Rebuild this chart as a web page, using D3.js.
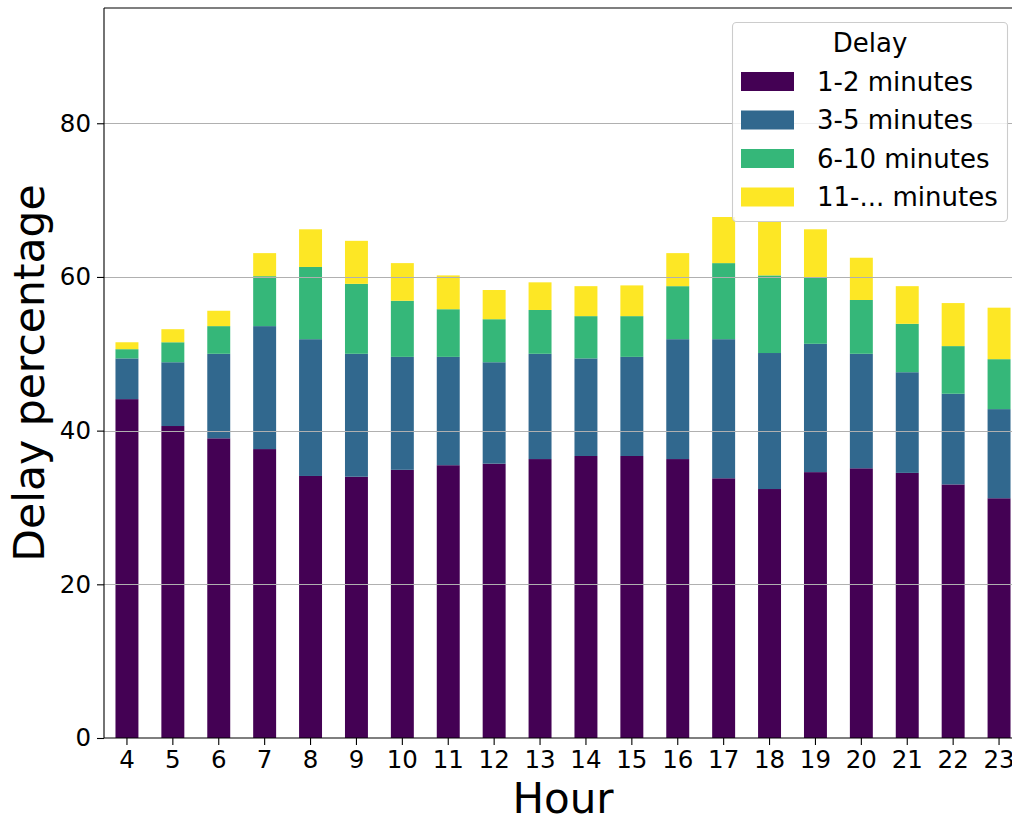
<!DOCTYPE html>
<html>
<head>
<meta charset="utf-8">
<script src="https://cdn.jsdelivr.net/npm/d3@7"></script>
<style>
  html, body { margin: 0; padding: 0; background: #fff; }
  svg { display: block; font-family: "DejaVu Sans", sans-serif; }
</style>
</head>
<body>
<svg id="chart" width="1012" height="819"></svg>
<script>
// Hour of day
const hours = [4, 5, 6, 7, 8, 9, 10, 11, 12, 13, 14, 15, 16, 17, 18, 19, 20, 21, 22, 23];

// Share of delayed trips per delay bucket (%), stacked
const delay1to2  = [44.1, 40.6, 39.0, 37.6, 34.1, 34.0, 34.9, 35.5, 35.7, 36.3, 36.7, 36.7, 36.3, 33.8, 32.4, 34.6, 35.1, 34.5, 33.0, 31.2];
const delay3to5  = [5.3, 8.3, 11.0, 16.0, 17.8, 16.0, 14.7, 14.1, 13.2, 13.7, 12.7, 12.9, 15.6, 18.1, 17.7, 16.7, 14.9, 13.1, 11.8, 11.6];
const delay6to10 = [1.2, 2.6, 3.6, 6.5, 9.4, 9.1, 7.3, 6.2, 5.6, 5.7, 5.5, 5.3, 6.9, 9.9, 10.1, 8.6, 7.0, 6.3, 6.2, 6.5];
const delay11up  = [0.9, 1.7, 2.0, 3.0, 4.9, 5.6, 4.9, 4.4, 3.8, 3.6, 3.9, 4.0, 4.3, 6.0, 7.0, 6.3, 5.5, 4.9, 5.6, 6.7];

const seriesNames = ["1-2 minutes", "3-5 minutes", "6-10 minutes", "11-... minutes"];
const seriesValues = [delay1to2, delay3to5, delay6to10, delay11up];
const seriesColors = ["#440154", "#31688e", "#35b779", "#fde725"];

const yTicks = [0, 20, 40, 60, 80];
const yMax = 95;

const svg = d3.select("#chart");
const plot = { left: 104, right: 1022, top: 8, bottom: 738 };

const rows = hours.map((h, i) => {
  const r = { hour: h };
  seriesNames.forEach((n, k) => { r[n] = seriesValues[k][i]; });
  return r;
});
const stacked = d3.stack().keys(seriesNames)(rows);

const x = d3.scaleBand()
  .domain(hours)
  .range([plot.left, plot.right])
  .paddingInner(0.5)
  .paddingOuter(0.25);

const y = d3.scaleLinear()
  .domain([0, yMax])
  .range([plot.bottom, plot.top]);

// Bars
svg.append("g")
  .selectAll("g")
  .data(stacked)
  .join("g")
  .attr("fill", (d, i) => seriesColors[i])
  .selectAll("rect")
  .data(d => d)
  .join("rect")
  .attr("x", d => x(d.data.hour))
  .attr("width", x.bandwidth())
  .attr("y", d => y(d[1]))
  .attr("height", d => y(d[0]) - y(d[1]));

// Horizontal grid, drawn over the bars
svg.append("g")
  .selectAll("line")
  .data(yTicks.filter(t => t > 0))
  .join("line")
  .attr("x1", plot.left)
  .attr("x2", plot.right)
  .attr("y1", d => Math.round(y(d)) + 0.5)
  .attr("y2", d => Math.round(y(d)) + 0.5)
  .attr("stroke", "#b0b0b0")
  .attr("stroke-width", 1.2);

// Axes
const yAxis = svg.append("g")
  .attr("transform", `translate(${plot.left},0)`)
  .call(d3.axisLeft(y).tickValues(yTicks).tickSize(7).tickPadding(6).tickFormat(d3.format("d")));
yAxis.select(".domain").remove();

const xAxis = svg.append("g")
  .attr("transform", `translate(0,${plot.bottom})`)
  .call(d3.axisBottom(x).tickSize(7).tickPadding(6));
xAxis.select(".domain").remove();

[yAxis, xAxis].forEach(a => {
  a.selectAll("text")
    .attr("font-family", "DejaVu Sans, sans-serif")
    .attr("font-size", 24.5)
    .attr("fill", "#000");
  a.selectAll(".tick line").attr("stroke", "#000").attr("stroke-width", 1.1);
});

// Spines
const spine = svg.append("g").attr("fill", "none").attr("stroke", "#000").attr("stroke-width", 1.1);
spine.append("line").attr("x1", plot.left).attr("x2", plot.left).attr("y1", plot.top).attr("y2", plot.bottom);
spine.append("line").attr("x1", plot.left).attr("x2", plot.right).attr("y1", plot.bottom).attr("y2", plot.bottom);
spine.append("line").attr("x1", plot.left).attr("x2", plot.right).attr("y1", plot.top).attr("y2", plot.top);
spine.append("line").attr("x1", plot.right).attr("x2", plot.right).attr("y1", plot.top).attr("y2", plot.bottom);

// Axis titles
svg.append("text")
  .attr("x", (plot.left + plot.right) / 2)
  .attr("y", 813)
  .attr("text-anchor", "middle")
  .attr("font-size", 42)
  .attr("fill", "#000")
  .text("Hour");

svg.append("text")
  .attr("transform", `translate(44,${(plot.top + plot.bottom) / 2}) rotate(-90)`)
  .attr("text-anchor", "middle")
  .attr("font-size", 42.5)
  .attr("fill", "#000")
  .text("Delay percentage");

// Legend
const legend = svg.append("g").attr("transform", "translate(732,22)");
legend.append("rect")
  .attr("x", 0.5).attr("y", 0.5)
  .attr("width", 275).attr("height", 199)
  .attr("rx", 4)
  .attr("fill", "#fff").attr("fill-opacity", 0.8)
  .attr("stroke", "#cccccc").attr("stroke-width", 1.1);
legend.append("text")
  .attr("x", 138).attr("y", 30)
  .attr("text-anchor", "middle")
  .attr("font-size", 26)
  .attr("fill", "#000")
  .text("Delay");
const items = legend.selectAll("g.item")
  .data(seriesNames)
  .join("g")
  .attr("class", "item")
  .attr("transform", (d, i) => `translate(0,${50 + i * 38.5})`);
items.append("rect")
  .attr("x", 9).attr("y", 0)
  .attr("width", 53).attr("height", 19)
  .attr("fill", (d, i) => seriesColors[i]);
items.append("text")
  .attr("x", 85).attr("y", 18.5)
  .attr("font-size", 26)
  .attr("fill", "#000")
  .text(d => d);
</script>
</body>
</html>
